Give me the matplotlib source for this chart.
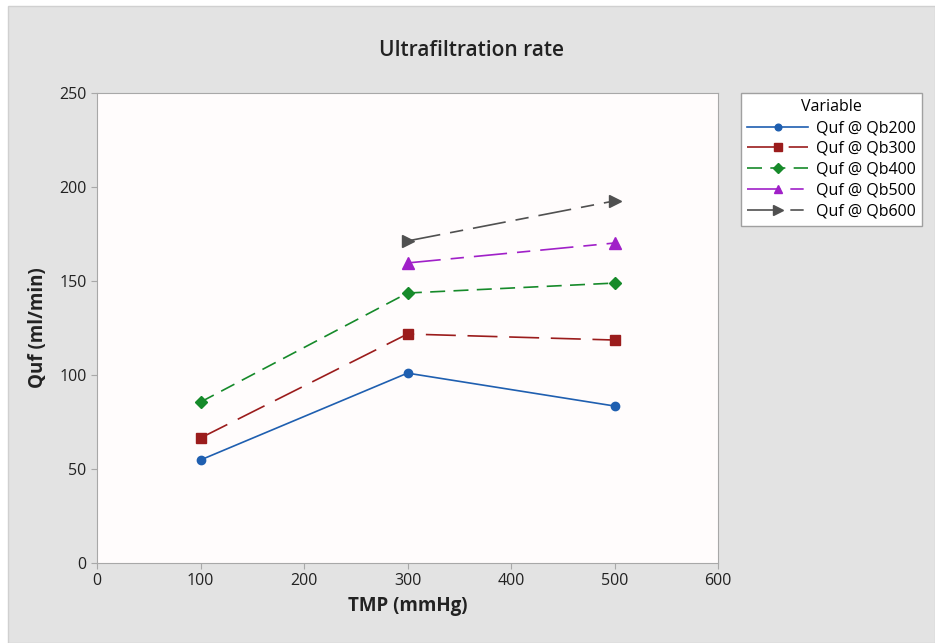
import matplotlib
matplotlib.use("Agg")
import matplotlib.pyplot as plt
from matplotlib.patches import Rectangle

plt.rcParams['font.family'] = ['Open Sans', 'DejaVu Sans']

tmp_x = [100, 300, 500]
qb200 = [54.8, 101.0, 83.5]
qb300 = [66.5, 121.8, 118.6]
qb400 = [85.6, 143.6, 148.9]
qb500_x = [300, 500]
qb500 = [159.6, 170.2]
qb600_x = [300, 500]
qb600 = [171.3, 192.6]
labels = ["Quf @ Qb200", "Quf @ Qb300", "Quf @ Qb400", "Quf @ Qb500", "Quf @ Qb600"]

W, H = 935, 643
fig = plt.figure(figsize=(W / 100, H / 100), dpi=100, facecolor='white')
fig.patches.append(Rectangle((8 / W, 0), 1 - 8 / W, 1 - 6 / H, transform=fig.transFigure,
                             facecolor='#e3e3e3', edgecolor='#d0d0d0', linewidth=1, zorder=-10))

ax = fig.add_axes([97 / W, 1 - 563 / H, (718 - 97) / W, (563 - 93) / H])
ax.set_zorder(2)
ax.set_facecolor('#fffcfc')

ax.plot(tmp_x, qb200, color='#1f5fb0', lw=1.2, marker='o', ms=6, label=labels[0])
ax.plot(tmp_x, qb300, color='#9b1c1c', lw=1.2, marker='s', ms=6.5, dashes=(18, 7), label=labels[1])
ax.plot(tmp_x, qb400, color='#168a2a', lw=1.2, marker='D', ms=6, dashes=(9, 5), label=labels[2])
ax.plot(qb500_x, qb500, color='#a020c8', lw=1.2, marker='^', ms=8, dashes=(20, 6, 8, 6), label=labels[3])
ax.plot(qb600_x, qb600, color='#505050', lw=1.2, marker='>', ms=9, dashes=(20, 6, 8, 6), label=labels[4])

ax.set_xlim(0, 600)
ax.set_ylim(0, 250)
ax.set_xticks([0, 100, 200, 300, 400, 500, 600])
ax.set_yticks([0, 50, 100, 150, 200, 250])
for s in ax.spines.values():
    s.set_color('#a8a8a8')
ax.tick_params(axis='both', colors='#a8a8a8', labelcolor='#222222', labelsize=11.5, length=4, direction='out')

ax.set_xlabel("TMP (mmHg)", fontsize=13.5, fontweight='bold', color='#222222', labelpad=5)
ax.set_ylabel("Quf (ml/min)", fontsize=13.5, fontweight='bold', color='#222222', labelpad=8)

fig.text(472 / W, 1 - 50 / H, "Ultrafiltration rate", fontsize=15, fontweight='semibold',
         ha='center', va='center', color='#222222')

leg = fig.legend(loc='upper left', bbox_to_anchor=(741 / W, 1 - 93 / H), bbox_transform=fig.transFigure,
                 title="Variable", fontsize=11.5, title_fontsize=11.5, frameon=True, fancybox=False,
                 edgecolor='#a0a0a0', facecolor='white', framealpha=1, handlelength=3.8,
                 labelspacing=0.3, borderpad=0.4, handletextpad=0.5, borderaxespad=0,
                 markerscale=0.8)
leg.get_frame().set_linewidth(1)
leg.set_zorder(3)

fig.savefig("out.png", dpi=100, facecolor=fig.get_facecolor())
